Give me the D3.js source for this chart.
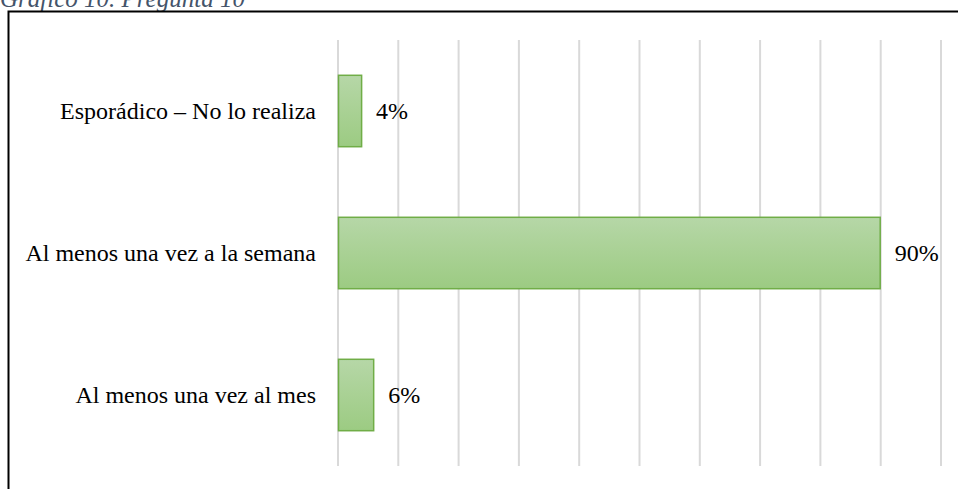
<!DOCTYPE html>
<html><head><meta charset="utf-8">
<script src="https://cdn.jsdelivr.net/npm/d3@7"></script>
<style>body{margin:0;background:#fff;}svg{display:block;}</style>
</head><body>
<svg id="c" width="958" height="489"></svg>
<script>
const categories = ["Esporádico – No lo realiza", "Al menos una vez a la semana", "Al menos una vez al mes"];
const values = [4, 90, 6];
const xTicks = [0,10,20,30,40,50,60,70,80,90,100];
const title = "Gráfico 10. Pregunta 10";

const svg = d3.select("#c");
const defs = svg.append("defs");
const g = defs.append("linearGradient").attr("id","bg").attr("x1",0).attr("y1",0).attr("x2",0).attr("y2",1);
g.append("stop").attr("offset","0%").attr("stop-color","#b6d7a7");
g.append("stop").attr("offset","100%").attr("stop-color","#9ccb82");

svg.append("text").attr("x",0).attr("y",7).attr("font-family","Liberation Serif, Times New Roman, serif")
  .attr("font-style","italic").attr("font-size",25).attr("fill","#44546a").text(title);

svg.append("path").attr("d","M8.5,489 V11.5 H958").attr("fill","none").attr("stroke","#000").attr("stroke-width",2);

const x = d3.scaleLinear().domain([0,100]).range([338,941]);
const y = d3.scaleBand().domain(categories).range([40,466]).paddingInner(0.49).paddingOuter(0.245);

svg.append("g").selectAll("line").data(xTicks).join("line")
  .attr("x1",d=>x(d)).attr("x2",d=>x(d)).attr("y1",40).attr("y2",466)
  .attr("stroke","#d9d9d9").attr("stroke-width",2);

svg.append("g").selectAll("rect").data(values).join("rect")
  .attr("x",x(0)+0.5).attr("y",(d,i)=>y(categories[i])+0.5)
  .attr("width",d=>x(d)-x(0)-1).attr("height",y.bandwidth()-1)
  .attr("fill","url(#bg)").attr("stroke","#70ad47").attr("stroke-width",1.5);

svg.append("g").selectAll("text").data(categories).join("text")
  .attr("x",316).attr("y",d=>y(d)+y.bandwidth()/2).attr("dy","0.35em")
  .attr("text-anchor","end").attr("font-family","Liberation Serif, Times New Roman, serif")
  .attr("font-size",24).attr("fill","#000").text(d=>d);

svg.append("g").selectAll("text").data(values).join("text")
  .attr("x",d=>x(d)+14).attr("y",(d,i)=>y(categories[i])+y.bandwidth()/2).attr("dy","0.35em")
  .attr("font-family","Liberation Serif, Times New Roman, serif")
  .attr("font-size",24).attr("fill","#000").text(d=>d+"%");
</script>
</body></html>
